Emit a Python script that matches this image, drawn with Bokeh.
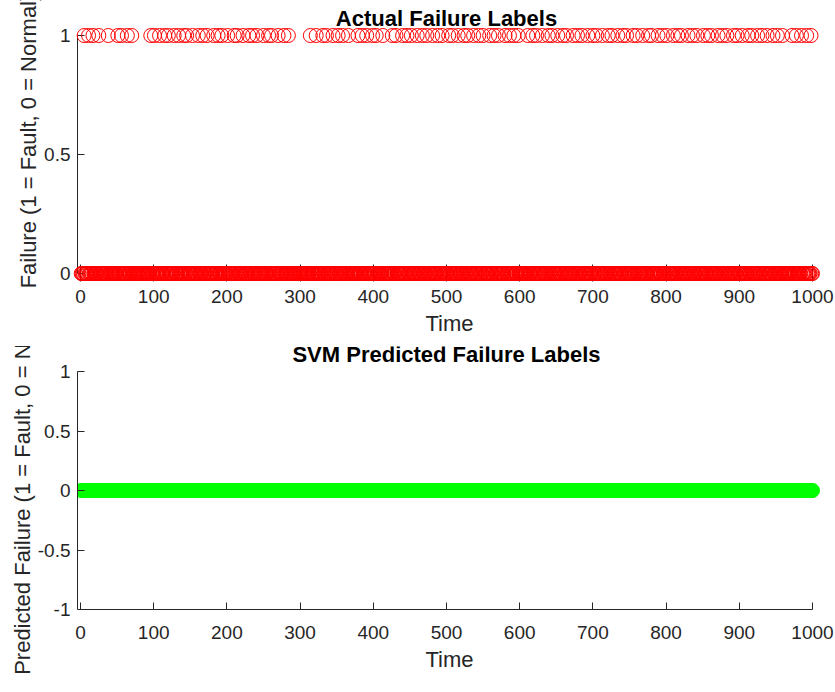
from bokeh.plotting import figure
from bokeh.models import Range1d, FixedTicker, Label, ColumnDataSource
from bokeh.layouts import column
from bokeh.embed import file_html
from bokeh.resources import INLINE

# ---------------- data ----------------
time = list(range(1, 1001))
fault_times = [
    5, 11, 17, 25, 38, 51, 56, 64, 70,
    96, 101, 108, 115, 120, 128, 134, 141, 145, 153, 161, 167, 173, 182, 188, 193,
    201, 210, 214, 222, 230, 235, 241, 250, 257, 261, 270, 278, 284,
    314, 322, 331, 336, 345, 352, 358, 366, 379, 385, 391, 399, 404, 413,
    426, 431, 440, 446, 452, 460, 467, 473, 481, 488, 494, 503, 508, 516, 524, 529,
    537, 544, 550, 559, 565, 571, 580, 586, 592, 598, 611, 618, 623, 631, 639, 644,
    652, 659, 664, 673, 679, 685, 693, 700, 705, 713, 721, 726, 734, 741, 746, 755,
    760, 768, 776, 780, 789, 795, 801, 810, 816, 821, 830, 836, 842, 851, 857, 862,
    871, 877, 883, 892, 897, 904, 912, 917, 925, 931, 938, 946, 952, 959, 972, 978,
    985, 992, 998,
]
fault_set = set(fault_times)
actual_failure = [1 if t in fault_set else 0 for t in time]
predicted_failure = [0 for t in time]

x_ticks = [0, 100, 200, 300, 400, 500, 600, 700, 800, 900, 1000]
y_ticks_top = [0, 0.5, 1]
y_labels_top = ["0", "0.5", "1"]
y_ticks_bottom = [-1, -0.5, 0, 0.5, 1]
y_labels_bottom = ["-1", "-0.5", "0", "0.5", "1"]

title_top = "Actual Failure Labels"
title_bottom = "SVM Predicted Failure Labels"
ylabel_top = "Failure (1 = Fault, 0 = Normal)"
ylabel_bottom = "Predicted Failure (1 = Fault, 0 = Normal)"
xlabel = "Time"

# ---------------- style ----------------
FONT = "Liberation Sans"
AX = "#262626"
W = 835
X_RANGE = (-4.1, 1012.3)


def style(p, yticks, ylabels, ylabel, ybounds, label_standoff):
    p.outline_line_color = None
    p.xgrid.visible = False
    p.ygrid.visible = False
    p.background_fill_color = "white"
    p.border_fill_color = "white"
    for ax in (p.xaxis[0], p.yaxis[0]):
        ax.axis_line_color = AX
        ax.axis_line_width = 1
        ax.major_tick_line_color = AX
        ax.major_tick_out = 0
        ax.major_tick_in = 7
        ax.minor_tick_line_color = None
        ax.major_label_text_font = FONT
        ax.major_label_text_font_size = "19px"
        ax.major_label_text_color = AX
        ax.axis_label_text_font = FONT
        ax.axis_label_text_font_size = "22px"
        ax.axis_label_text_font_style = "normal"
        ax.axis_label_text_color = AX
    xa = p.xaxis[0]
    xa.ticker = FixedTicker(ticks=x_ticks)
    xa.bounds = (x_ticks[0], x_ticks[-1])
    xa.axis_label = xlabel
    ya = p.yaxis[0]
    ya.ticker = FixedTicker(ticks=yticks)
    ya.major_label_overrides = {t: s for t, s in zip(yticks, ylabels)}
    ya.bounds = ybounds
    ya.axis_label = ylabel
    ya.major_label_standoff = 7
    ya.axis_label_standoff = label_standoff


# ---------------- top ----------------
src1 = ColumnDataSource(dict(time=time, failure=actual_failure))
p1 = figure(width=W, height=346, x_range=Range1d(*X_RANGE),
            y_range=Range1d(-0.0336, 1.1471), output_backend="svg",
            toolbar_location=None, min_border_left=77, min_border_right=14,
            min_border_top=0, min_border_bottom=65)
r1 = p1.scatter(x="time", y="failure", source=src1, marker="circle", size=14,
                fill_color=None, line_color="#FF0000", line_width=1)
r1.level = "overlay"
style(p1, y_ticks_top, y_labels_top, ylabel_top, (0, 1), 0)
xa1 = p1.xaxis[0]
xa1.axis_line_color = None
xa1.major_tick_in = 17
xa1.major_label_standoff = 8
xa1.axis_label_standoff = 5
p1.add_layout(Label(x=500, y=1.0714, text=title_top, text_font=FONT,
                    text_font_size="22px", text_font_style="bold",
                    text_color="black", text_align="center",
                    text_baseline="middle"))

# ---------------- bottom ----------------
src2 = ColumnDataSource(dict(time=time, failure=predicted_failure))
p2 = figure(width=W, height=345, x_range=Range1d(*X_RANGE),
            y_range=Range1d(-1, 1.2101), output_backend="svg",
            toolbar_location=None, min_border_left=77, min_border_right=14,
            min_border_top=0, min_border_bottom=82)
p2.scatter(x="time", y="failure", source=src2, marker="circle", size=14,
           fill_color="#00FF00", line_color="#00FF00", line_width=1)
style(p2, y_ticks_bottom, y_labels_bottom, ylabel_bottom, (-1, 1), 0)
xa2 = p2.xaxis[0]
xa2.major_label_standoff = 16
xa2.axis_label_standoff = 5
p2.add_layout(Label(x=500, y=1.1429, text=title_bottom, text_font=FONT,
                    text_font_size="22px", text_font_style="bold",
                    text_color="black", text_align="center",
                    text_baseline="middle"))

layout = column(p1, p2, spacing=0)
open("out.html", "w").write(file_html(layout, INLINE))
